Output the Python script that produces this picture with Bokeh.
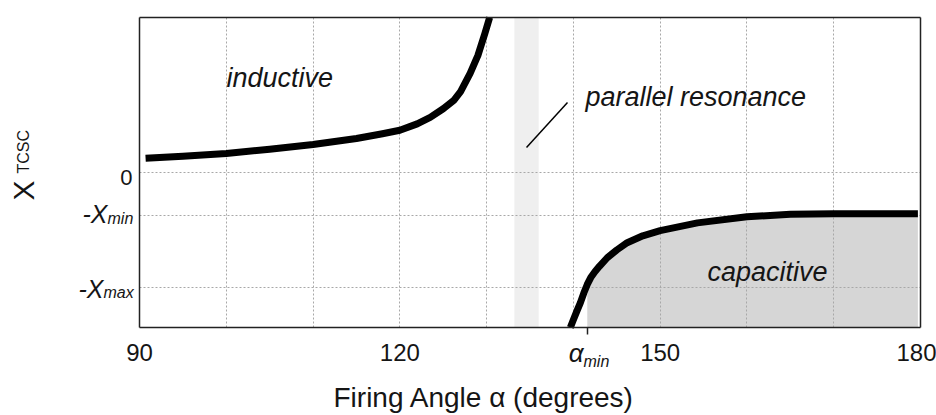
import math
from bokeh.plotting import figure
from bokeh.models import FixedTicker, Label, Range1d, LinearAxis, Grid
from bokeh.embed import file_html
from bokeh.resources import INLINE

# ---- data ----
# inductive branch: firing angle (deg) vs X_TCSC (in units of Xmin)
ind_angle = [90.7, 95, 100, 105, 110, 115, 118, 120, 122, 123.5, 125, 126.2, 127, 128.1, 129, 129.8, 130.35]
ind_x = [0.33, 0.38, 0.44, 0.54, 0.65, 0.79, 0.90, 0.98, 1.13, 1.28, 1.48, 1.67, 1.88, 2.30, 2.72, 3.23, 3.6]
# capacitive branch
cap_angle = [139.65, 140.0, 140.4, 140.8, 141.2, 141.6, 142.0, 142.5, 143.0, 143.9, 145, 146.2, 148, 150, 154.3, 160, 165, 170, 179.7]
cap_x = [-3.6, -3.42, -3.22, -3.03, -2.8, -2.6, -2.44, -2.3, -2.18, -1.98, -1.80, -1.63, -1.47, -1.35, -1.17, -1.03, -0.97, -0.96, -0.96]

alpha_min = 141.6
x_min_level = -1.0
x_max_level = -2.67
resonance_band = [133.2, 136.0]
x_ticks = [90, 120, 150, 180]
x_grid = [100, 110, 120, 130, 140, 150, 160, 170]
y_levels = [0, x_min_level, x_max_level]
y_tick_text = ["0", "-X", "-X"]
y_tick_sub = ["", "min", "max"]
x_lo, x_hi = 90, 180
y_lo, y_hi = -3.6, 3.6

FONT = "Liberation Sans"
TXT = "#151515"
AX = "#222222"

# ---- page geometry (pixels) ----
W, H = 936, 415
X0, X1 = 139, 920      # plot box left/right
Y0, Y1 = 17, 327       # plot box top/bottom
PXD = (X1 - X0) / (x_hi - x_lo)
PXU = (Y1 - Y0) / (y_hi - y_lo)
YZ = Y0 + y_hi * PXU   # pixel row of value 0


def dx(px):
    return x_lo + (px - X0) / PXD


def dy(py):
    return (YZ - py) / PXU


p = figure(width=W, height=H, x_range=Range1d(dx(0), dx(W)), y_range=Range1d(dy(H), dy(0)),
           output_backend="svg", toolbar_location=None,
           min_border_left=0, min_border_right=0, min_border_top=0, min_border_bottom=0)
p.background_fill_color = "white"
p.border_fill_color = "white"
p.outline_line_color = None

# grids limited to the plot box
GRID_STYLE = dict(line_color="#a8a8a8", line_dash="2 2", line_width=1)
if "cross_bounds" in Grid.properties():
    p.xgrid.ticker = FixedTicker(ticks=x_grid)
    p.xgrid.cross_bounds = (y_lo, y_hi)
    p.ygrid.ticker = FixedTicker(ticks=y_levels)
    p.ygrid.cross_bounds = (x_lo, x_hi)
    for g in (p.xgrid, p.ygrid):
        g.grid_line_color = GRID_STYLE["line_color"]
        g.grid_line_dash = GRID_STYLE["line_dash"]
        g.grid_line_width = 1
        g.level = "underlay"
else:
    p.xgrid.visible = False
    p.ygrid.visible = False
    p.segment(x0=x_grid, x1=x_grid, y0=[y_lo] * len(x_grid), y1=[y_hi] * len(x_grid),
              level="underlay", **GRID_STYLE)
    p.segment(x0=[x_lo] * 3, x1=[x_hi] * 3, y0=y_levels, y1=y_levels, level="underlay", **GRID_STYLE)

# parallel resonance band and capacitive area
p.quad(left=[resonance_band[0]], right=[resonance_band[1]], bottom=[y_lo], top=[y_hi],
       fill_color="#efefef", line_color=None, level="image")
i0 = cap_angle.index(alpha_min)
p.varea(x=cap_angle[i0:], y1=[y_lo] * (len(cap_angle) - i0), y2=cap_x[i0:],
        fill_color="#d6d6d6", level="image")

# curves
p.line(ind_angle, ind_x, line_width=7, line_color="black", line_cap="butt", line_join="round")
p.line(cap_angle, cap_x, line_width=7, line_color="black", line_cap="butt", line_join="round")

# leader line for "parallel resonance"
p.line([dx(526), dx(567)], [dy(147), dy(102)], line_width=1.5, line_color="black")

# ---- axes fixed on the plot box ----
xa = p.xaxis[0]
xa.fixed_location = y_lo
xa.bounds = (x_lo, x_hi)
xa.ticker = FixedTicker(ticks=x_ticks, minor_ticks=[alpha_min])
xa.axis_line_color = AX
xa.axis_line_width = 1.5
xa.major_tick_line_color = None
xa.major_tick_out = 0
xa.major_tick_in = 0
xa.minor_tick_line_color = AX
xa.minor_tick_line_width = 1.5
xa.minor_tick_out = 7
xa.minor_tick_in = 0
xa.major_label_text_font = FONT
xa.major_label_text_font_size = "24px"
xa.major_label_text_color = TXT
xa.major_label_standoff = 9

ya = p.yaxis[0]
ya.fixed_location = x_lo
ya.bounds = (y_lo, y_hi)
ya.ticker = FixedTicker(ticks=y_levels)
ya.axis_line_color = AX
ya.axis_line_width = 1.5
ya.major_tick_line_color = None
ya.minor_tick_line_color = None
ya.major_label_text_color = None

top_ax = LinearAxis(fixed_location=y_hi, bounds=(x_lo, x_hi), axis_line_color=AX, axis_line_width=1.5,
                    major_tick_line_color=None, minor_tick_line_color=None, major_label_text_color=None)
right_ax = LinearAxis(fixed_location=x_hi, bounds=(y_lo, y_hi), axis_line_color=AX, axis_line_width=1.5,
                      major_tick_line_color=None, minor_tick_line_color=None, major_label_text_color=None)
p.add_layout(top_ax, "above")
p.add_layout(right_ax, "right")


def lab(px, py, text, size, style="normal", align="left", angle=0):
    """px, py: page pixel of the text start / baseline (for rotated text px is the centre column)."""
    y = dy(py - 0.3465 * size) if angle == 0 else dy(py)
    p.add_layout(Label(x=dx(px), y=y, text=text, text_font=FONT, text_font_size=f"{size}px",
                       text_font_style=style, text_align=align, text_baseline="middle",
                       text_color=TXT, angle=angle))


# in-plot annotations
lab(226, 87, "inductive", 27, "italic")
lab(585, 106, "parallel resonance", 27, "italic")
lab(707, 281, "capacitive", 27, "italic")

# y tick labels
lab(132, 184.5, y_tick_text[0], 22, align="right")
lab(107, 222, y_tick_text[1], 25, "italic", align="right")
lab(107, 224, y_tick_sub[1], 16, "italic")
lab(103, 297, y_tick_text[2], 25, "italic", align="right")
lab(103, 298, y_tick_sub[2], 16, "italic")

# alpha_min under its tick
lab(583, 362, "α", 26, "italic", align="right")
lab(583, 367, "min", 16, "italic")

# y axis title (rotated)
lab(23, 200, "X", 30, angle=math.pi / 2)
lab(23, 173, "TCSC", 16, angle=math.pi / 2)

# x axis title
lab(333, 407, "Firing Angle α  (degrees)", 28)

open("out.html", "w").write(file_html(p, INLINE))
